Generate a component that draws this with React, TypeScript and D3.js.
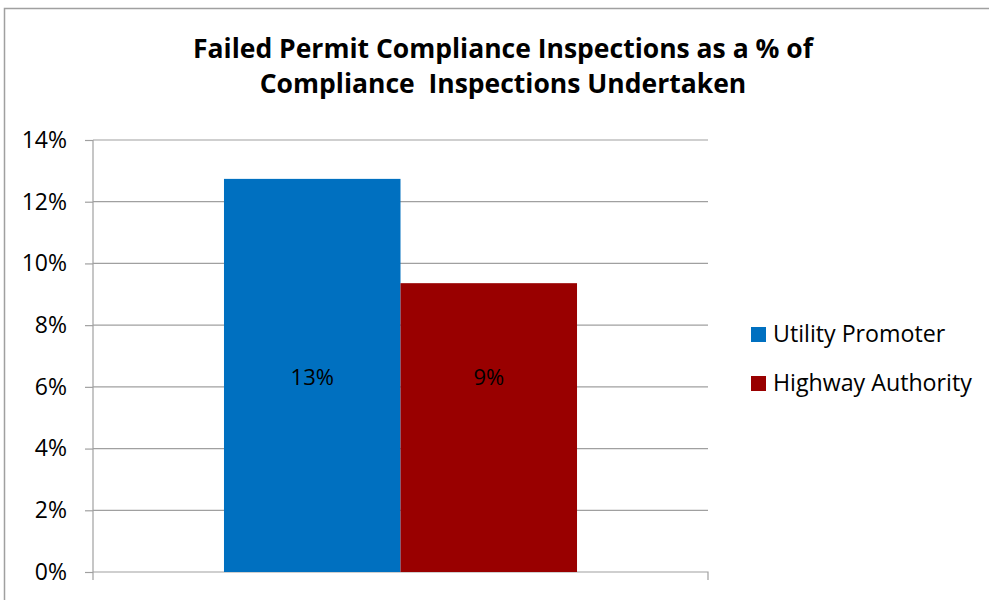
import React, { useRef, useEffect } from 'react';
import * as d3 from 'd3';

// data
const categories = [''];
const seriesNames = ['Utility Promoter', 'Highway Authority'];
const seriesValues = [0.1274, 0.0936];
const seriesLabels = ['13%', '9%'];
const seriesColours = ['#0070C0', '#990000'];
const yTicks = [0, 0.02, 0.04, 0.06, 0.08, 0.1, 0.12, 0.14];
const titleLines = ['Failed Permit Compliance Inspections as a % of', 'Compliance  Inspections Undertaken'];

// constants
const width = 989;
const height = 600;
const margin = { top: 140, right: 281, bottom: 28, left: 93 };
const innerWidth = width - margin.left - margin.right;
const innerHeight = height - margin.top - margin.bottom;
const font = '"Open Sans", sans-serif';
const labelLevel = 0.063;

const App = () => {
  const gRef = useRef<SVGGElement>(null);
  const yAxisRef = useRef<SVGGElement>(null);
  const xAxisRef = useRef<SVGGElement>(null);

  const xScale = d3.scaleBand().domain(categories).range([0, innerWidth]).paddingInner(0).paddingOuter(0.371);
  const seriesScale = d3.scaleBand().domain(seriesNames).range([0, xScale.bandwidth()]);
  const yScale = d3.scaleLinear().domain([0, 0.14]).range([innerHeight, 0]);

  useEffect(() => {
    const g = d3.select(gRef.current);

    // gridlines
    g.selectAll('.grid')
      .data(yTicks.slice(1))
      .join('line')
      .classed('grid', true)
      .attr('x1', 0)
      .attr('x2', innerWidth)
      .attr('y1', d => yScale(d))
      .attr('y2', d => yScale(d))
      .attr('stroke', '#a0a0a0')
      .attr('stroke-width', 1.2);

    // bars
    const rows = seriesNames.map((s, i) => ({ s, v: seriesValues[i], label: seriesLabels[i], c: seriesColours[i] }));
    g.selectAll('.bar')
      .data(rows)
      .join('rect')
      .classed('bar', true)
      .attr('x', d => (xScale(categories[0]) as number) + (seriesScale(d.s) as number))
      .attr('width', seriesScale.bandwidth())
      .attr('y', d => yScale(d.v))
      .attr('height', d => innerHeight - yScale(d.v))
      .attr('fill', d => d.c);

    g.selectAll('.bar-label')
      .data(rows)
      .join('text')
      .classed('bar-label', true)
      .attr('x', d => (xScale(categories[0]) as number) + (seriesScale(d.s) as number) + seriesScale.bandwidth() / 2)
      .attr('y', yScale(labelLevel))
      .attr('dy', '0.35em')
      .attr('text-anchor', 'middle')
      .attr('font-family', font)
      .attr('font-size', 22)
      .attr('fill', '#000')
      .text(d => d.label);

    // axes
    const yAxis = d3.axisLeft(yScale).tickValues(yTicks).tickFormat(d3.format('.0%')).tickSize(8).tickPadding(18);
    d3.select(yAxisRef.current)
      .call(yAxis)
      .attr('font-size', 23)
      .attr('font-family', font)
      .call(a => a.select('.domain').attr('d', `M0,0V${innerHeight + 8}`))
      .call(a => a.selectAll('line').attr('stroke', '#a0a0a0').attr('stroke-width', 1.2))
      .call(a => a.selectAll('.domain').attr('stroke', '#a0a0a0').attr('stroke-width', 1.2))
      .call(a => a.selectAll('text').attr('fill', '#000'));

    d3.select(xAxisRef.current)
      .attr('transform', `translate(0,${innerHeight})`)
      .call(a => a.selectAll('*').remove())
      .call(a => a.append('path')
        .attr('d', `M0,0H${innerWidth}V8`)
        .attr('fill', 'none')
        .attr('stroke', '#a0a0a0')
        .attr('stroke-width', 1.2));
  }, []);

  return (
    <svg width={width} height={height} style={{ position: 'absolute', left: 0, top: 0 }}>
      <rect x={0} y={0} width={width} height={height} fill="#fff" />
      <rect x={4.5} y={8.5} width={width + 20} height={height + 20} fill="none" stroke="#a0a0a0" strokeWidth={1.5} />
      {titleLines.map((t, i) => (
        <text key={i} x={503} y={58 + i * 35} textAnchor="middle" fontFamily={font} fontWeight="bold" fontSize={26.5}
          style={{ whiteSpace: 'pre' }}>{t}</text>
      ))}
      <g transform={`translate(${margin.left},${margin.top})`} ref={gRef}>
        <g ref={yAxisRef}></g>
        <g ref={xAxisRef}></g>
      </g>
      <g transform="translate(751,327)">
        {seriesNames.map((s, i) => (
          <g key={s} transform={`translate(0,${i * 49})`}>
            <rect width={15} height={15} fill={seriesColours[i]} />
            <text x={22} y={15} fontFamily={font} fontSize={23.2} fill="#000">{s}</text>
          </g>
        ))}
      </g>
    </svg>
  );
};

export default App;
